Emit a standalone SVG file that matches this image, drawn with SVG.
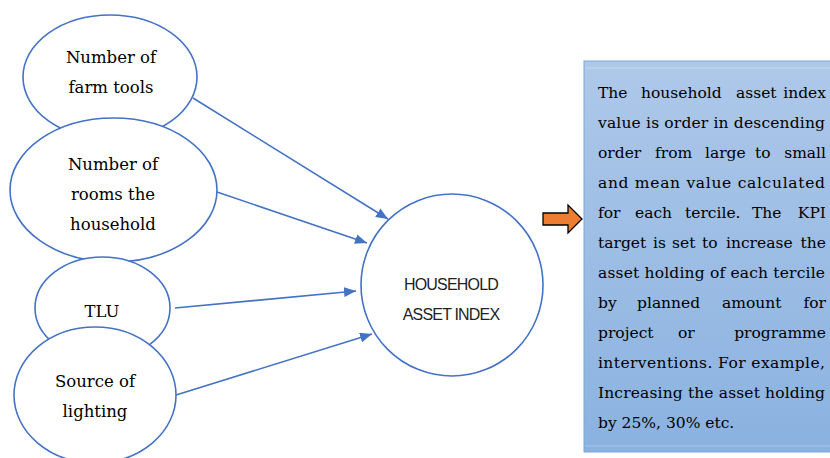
<svg xmlns="http://www.w3.org/2000/svg" width="830" height="458" viewBox="0 0 830 458">
<defs>
<linearGradient id="bg" x1="0" y1="0" x2="0" y2="1">
<stop offset="0" stop-color="#aec8e9"/>
<stop offset="1" stop-color="#8ab2e0"/>
</linearGradient>
<marker id="ah" viewBox="0 0 12 10" refX="12" refY="5" markerWidth="12" markerHeight="10" markerUnits="userSpaceOnUse" orient="auto">
<path d="M0,0 L12,5 L0,10 z" fill="#4472c4"/>
</marker>
<style>
.n{fill:#fff;stroke:#4472c4;stroke-width:1.6}
.t{font-family:"DejaVu Serif","Liberation Serif",serif;font-size:15.5px;fill:#000}
.c{text-anchor:middle;font-size:16.5px}
.r{text-anchor:end}
.e{stroke:#4472c4;stroke-width:1.6;fill:none;marker-end:url(#ah)}
.h{font-family:"Liberation Sans",Arial,sans-serif;font-size:16px;fill:#222;text-anchor:middle;letter-spacing:-0.8px}
</style>
</defs>
<rect width="830" height="458" fill="#fff"/>

<g id="connectors">
<line class="e" x1="193" y1="98" x2="388" y2="219"/>
<line class="e" x1="217" y1="192" x2="367" y2="243"/>
<line class="e" x1="175" y1="308" x2="356" y2="291"/>
<line class="e" x1="176" y1="395" x2="372" y2="334"/>
</g>

<g id="n1">
<ellipse class="n" cx="110" cy="77" rx="87" ry="62"/>
<text class="t c" x="111" y="63">Number of</text>
<text class="t c" x="111" y="93">farm tools</text>
</g>
<g id="n2">
<ellipse class="n" cx="113.5" cy="190" rx="103.5" ry="72"/>
<text class="t c" x="113" y="170">Number of</text>
<text class="t c" x="113" y="200">rooms the</text>
<text class="t c" x="113" y="230">household</text>
</g>
<g id="n3">
<ellipse class="n" cx="102.5" cy="308" rx="67.5" ry="51"/>
<text class="t c" x="102" y="317">TLU</text>
</g>
<g id="n4">
<ellipse class="n" cx="95" cy="395" rx="81" ry="68"/>
<text class="t c" x="95" y="387">Source of</text>
<text class="t c" x="95" y="417">lighting</text>
</g>

<g id="index">
<circle class="n" cx="452" cy="285" r="91"/>
<text class="h" x="451" y="290">HOUSEHOLD</text>
<text class="h" x="451" y="320">ASSET INDEX</text>
</g>

<g id="arrow">
<path d="M543,213 L568,213 L568,205 L582,219 L568,233 L568,225 L543,225 Z" fill="#ed7d31" stroke="#000" stroke-width="1.3"/>
</g>

<g id="textbox" class="t">
<rect x="584" y="61" width="260" height="391" fill="url(#bg)" stroke="#7ea6d8" stroke-width="1"/>
<line x1="585" y1="68" x2="830" y2="68" stroke="#c5d8ef" stroke-width="1"/>
<line x1="585" y1="446" x2="830" y2="446" stroke="#a9c5e8" stroke-width="1"/>

<text x="598" y="98">The</text>
<text x="641" y="98">household</text>
<text x="736" y="98">asset</text>
<text class="r" x="826" y="98">index</text>

<text x="598" y="128" textLength="227" lengthAdjust="spacing">value is order in descending</text>

<text x="598" y="158">order</text>
<text x="655" y="158">from</text>
<text x="705" y="158">large</text>
<text x="755" y="158">to</text>
<text class="r" x="826" y="158">small</text>

<text x="598" y="188" textLength="227" lengthAdjust="spacing">and mean value calculated</text>

<text x="598" y="218">for</text>
<text x="635" y="218">each</text>
<text x="685" y="218">tercile.</text>
<text x="752" y="218">The</text>
<text class="r" x="826" y="218">KPI</text>

<text x="598" y="248">target</text>
<text x="653" y="248">is</text>
<text x="672" y="248">set</text>
<text x="702" y="248">to</text>
<text x="726" y="248">increase</text>
<text class="r" x="826" y="248">the</text>

<text x="598" y="278" textLength="227" lengthAdjust="spacing">asset holding of each tercile</text>

<text x="598" y="308">by</text>
<text x="637" y="308">planned</text>
<text x="722" y="308">amount</text>
<text class="r" x="826" y="308">for</text>

<text x="598" y="338">project</text>
<text x="678" y="338">or</text>
<text class="r" x="826" y="338">programme</text>

<text x="598" y="368" textLength="227" lengthAdjust="spacing">interventions. For example,</text>

<text x="598" y="398" textLength="227" lengthAdjust="spacing">Increasing the asset holding</text>

<text x="598" y="428">by 25%, 30% etc.</text>
</g>
</svg>
